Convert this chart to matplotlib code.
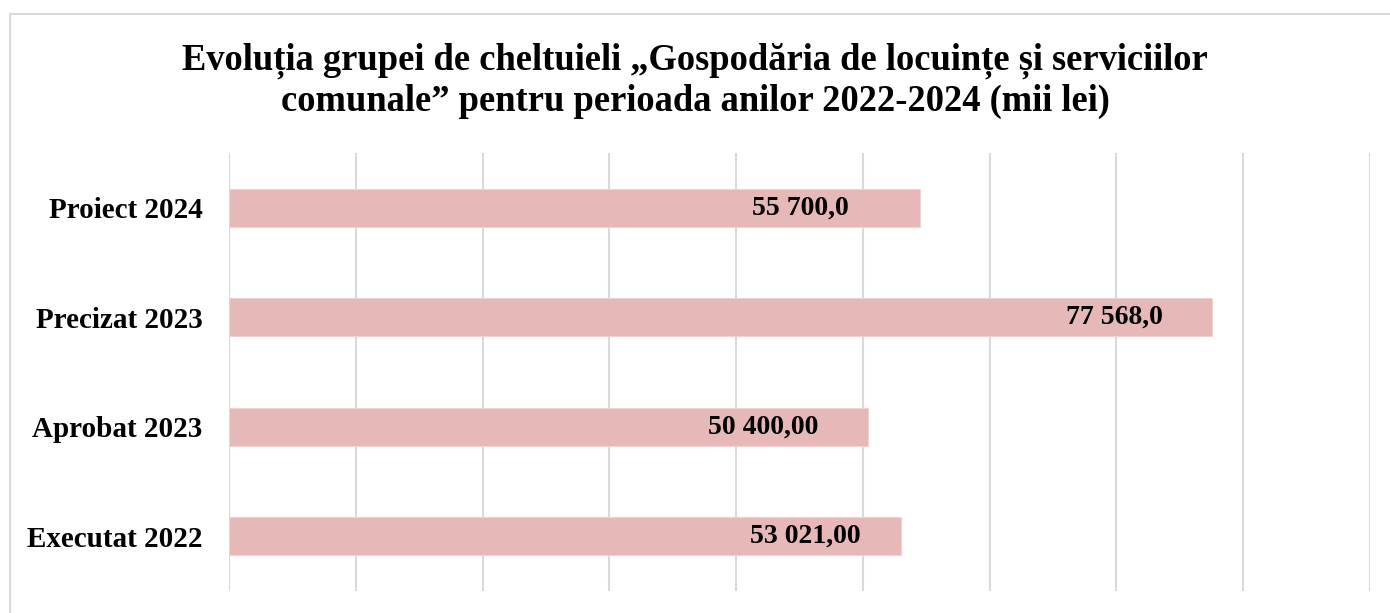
import matplotlib.pyplot as plt
from matplotlib.patches import Rectangle

# data
categories = ['Executat 2022', 'Aprobat 2023', 'Precizat 2023', 'Proiect 2024']
bar_values = [53021.0, 50400.0, 77568.0, 54500.0]
bar_labels = ['53 021,00', '50 400,00', '77 568,0', '55 700,0']

title_lines = ['Evoluția grupei de cheltuieli „Gospodăria de locuințe și serviciilor',
               'comunale” pentru perioada anilor 2022-2024 (mii lei)']

bar_color = '#E6B8B7'
grid_color = '#D9D9D9'
# how far each value label sits in from the end of its bar (points)
label_shift = [29, 36, 36, 51]

plt.rcParams['font.family'] = ['Liberation Serif', 'DejaVu Serif']

fig = plt.figure(figsize=(13.9, 6.13), dpi=100)
ax = fig.add_axes([229 / 1390, 1 - 591 / 613, (1370 - 229) / 1390, 438 / 613])

ax.barh(range(len(categories)), bar_values, height=0.35, color=bar_color,
        edgecolor='#EFD3D2', linewidth=0.8, zorder=2)

for i, (v, lab) in enumerate(zip(bar_values, bar_labels)):
    ax.annotate(lab, xy=(v, i), xytext=(-label_shift[i], 0), textcoords='offset points',
                ha='right', va='center', fontsize=20, fontweight='bold', zorder=3)

ax.set_xlim(0, 90000)
ax.set_ylim(-0.5, len(categories) - 0.5)
ax.set_xticks(range(0, 90001, 10000))
ax.set_xticklabels([])
ax.set_yticks(range(len(categories)))
ax.set_yticklabels(categories, fontsize=21, fontweight='bold')
ax.tick_params(axis='both', length=0)
ax.tick_params(axis='y', pad=19)
ax.grid(axis='x', color=grid_color, linewidth=1.5, zorder=0)
for s in ax.spines.values():
    s.set_visible(False)

for line, base in zip(title_lines, [69.5, 110.5]):
    fig.text(0.5, 1 - base / 613, line, ha='center', va='baseline', fontsize=26.3,
             fontweight='bold')

# chart frame (cut off at right and bottom in the reference)
fig.add_artist(Rectangle((9.5 / 1390, -0.1), 1.2, 1 - 14 / 613 + 0.1,
                         transform=fig.transFigure, fill=False,
                         edgecolor=grid_color, linewidth=1.5, clip_on=False))

# fragment of the text above the chart
fig.text(147 / 1390, 1 + 12 / 613, 'g', fontsize=22, va='baseline')

fig.savefig('out.png', dpi=100, facecolor='white')
